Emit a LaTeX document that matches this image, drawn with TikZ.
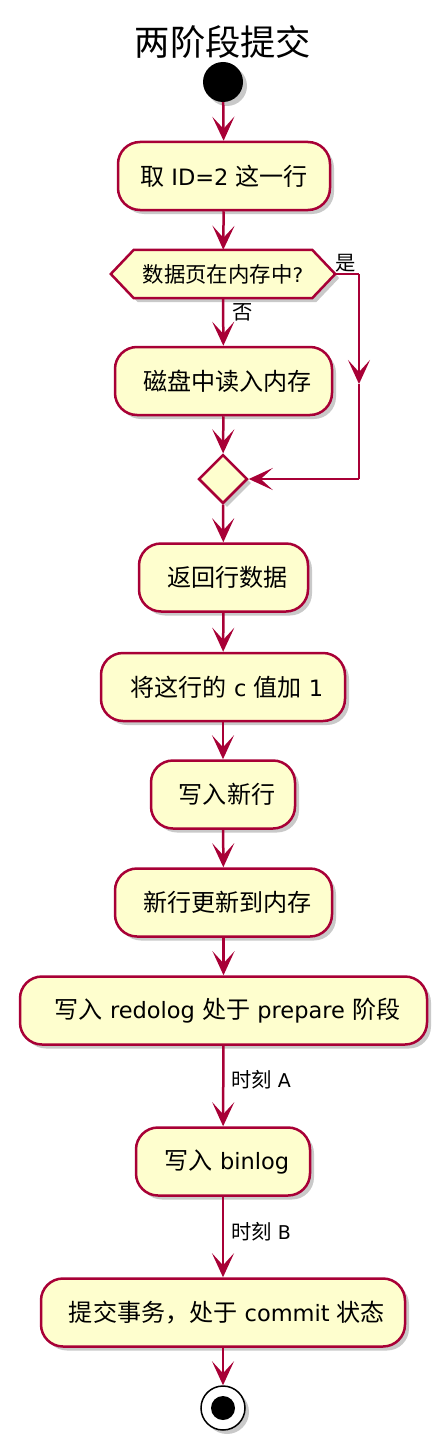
\documentclass[tikz,border=0pt]{standalone}
\usepackage{fontspec}
\setmainfont{DejaVu Sans}
\newfontfamily\cjk[Scale=1.07]{Noto Sans CJK SC}
\usetikzlibrary{arrows.meta,shapes.geometric,shadows,backgrounds}
\definecolor{boxfill}{HTML}{FEFECE}
\definecolor{boxline}{HTML}{A80036}
\tikzset{
  shad/.style={drop shadow={shadow xshift=4pt,shadow yshift=-4pt,opacity=0.3,fill=black!70}},
  actbox/.style={draw=boxline,fill=boxfill,line width=2.5pt,rounded corners=22pt,
    minimum height=68pt,inner sep=0pt,font=\fontsize{22.5}{26}\selectfont,shad},
  flow/.style={draw=boxline,line width=2.5pt},
  arr/.style={flow,-{Stealth[length=24pt,width=22pt,inset=12pt]}},
  lbl/.style={font=\fontsize{19}{22}\selectfont,inner sep=0pt},
}
\begin{document}
\begin{tikzpicture}[x=1pt,y=-1pt]
\useasboundingbox (0,0) rectangle (446,1450);
\node (title) at (223,42) {\fontsize{33}{38}\selectfont\cjk 两阶段提交};
\node (startdot) at (223,82) [circle,fill=black,minimum size=40pt,inner sep=0pt,shad] {};
\node (b1) at (224,176) [actbox,minimum width=212pt] {{\cjk 取} ID=2 {\cjk 这一行}};
\node (hex) at (223,274) [minimum width=224pt,minimum height=48pt,inner sep=0pt,font=\fontsize{20}{23}\selectfont] {{\cjk 数据页在内存中}?};
\begin{scope}[on background layer]
\draw[draw=boxline,fill=boxfill,line width=2.5pt,shad] (hex.west) -- ([xshift=23pt]hex.north west) -- ([xshift=-23pt]hex.north east) -- (hex.east) -- ([xshift=-23pt]hex.south east) -- ([xshift=23pt]hex.south west) -- cycle;
\end{scope}
\node (b2) at (223.5,381) [actbox,minimum width=217pt] {\hspace*{8pt}{\cjk 磁盘中读入内存}};
\node (dia) at (223,479) [diamond,draw=boxline,fill=boxfill,line width=2.5pt,minimum width=49pt,minimum height=49pt,inner sep=0pt,shad] {};
\node (b3) at (223.5,577.5) [actbox,minimum width=169pt] {\hspace*{8pt}{\cjk 返回行数据}};
\node (b4) at (223,687) [actbox,minimum width=244pt] {\hspace*{8pt}{\cjk 将这行的} c {\cjk 值加} 1};
\node (b5) at (223,794.5) [actbox,minimum width=144pt] {\hspace*{8pt}{\cjk 写入新行}};
\node (b6) at (223.5,902.5) [actbox,minimum width=217pt] {\hspace*{8pt}{\cjk 新行更新到内存}};
\node (b7) at (223.5,1010.5) [actbox,minimum width=407pt] {\hspace*{8pt}{\cjk 写入} redolog {\cjk 处于} prepare {\cjk 阶段}};
\node (b8) at (223,1161.5) [actbox,minimum width=174pt] {\hspace*{8pt}{\cjk 写入} binlog};
\node (b9) at (223,1312.5) [actbox,minimum width=364pt] {\hspace*{8pt}{\cjk 提交事务，处于} commit {\cjk 状态}};
\node (enddot) at (223,1408) [circle,draw=black,fill=white,line width=1.5pt,minimum size=44pt,inner sep=0pt,shad] {};
\node (enddotin) at (223,1408) [circle,fill=black,minimum size=24pt,inner sep=0pt] {};
% connectors
\draw[arr] (startdot) -- (b1);
\draw[arr] (b1) -- (hex);
\draw[arr] (hex) -- (b2);
\draw[arr] (b2) -- (dia);
\coordinate (r1) at (359,274);
\coordinate (rm) at (359,384);
\coordinate (r2) at (359,479);
\draw[flow] (hex.east) -- (r1);
\draw[arr] (r1) -- (rm);
\draw[flow] (rm) -- (r2);
\draw[arr] (r2) -- (dia.east);
\draw[arr] (dia) -- (b3);
\draw[arr] (b3) -- (b4);
\draw[arr] (b4) -- (b5);
\draw[arr] (b5) -- (b6);
\draw[arr] (b6) -- (b7);
\draw[arr] (b7) -- (b8);
\draw[arr] (b8) -- (b9);
\draw[arr] (b9) -- (enddot);
% labels
\node[lbl] (yes) at (346,263) {\cjk 是};
\node[lbl] (no) at (243,312) {\cjk 否};
\node[lbl,anchor=west] (ta) at (231,1080) {{\cjk 时刻} A};
\node[lbl,anchor=west] (tb) at (231,1232) {{\cjk 时刻} B};
\end{tikzpicture}
\end{document}
